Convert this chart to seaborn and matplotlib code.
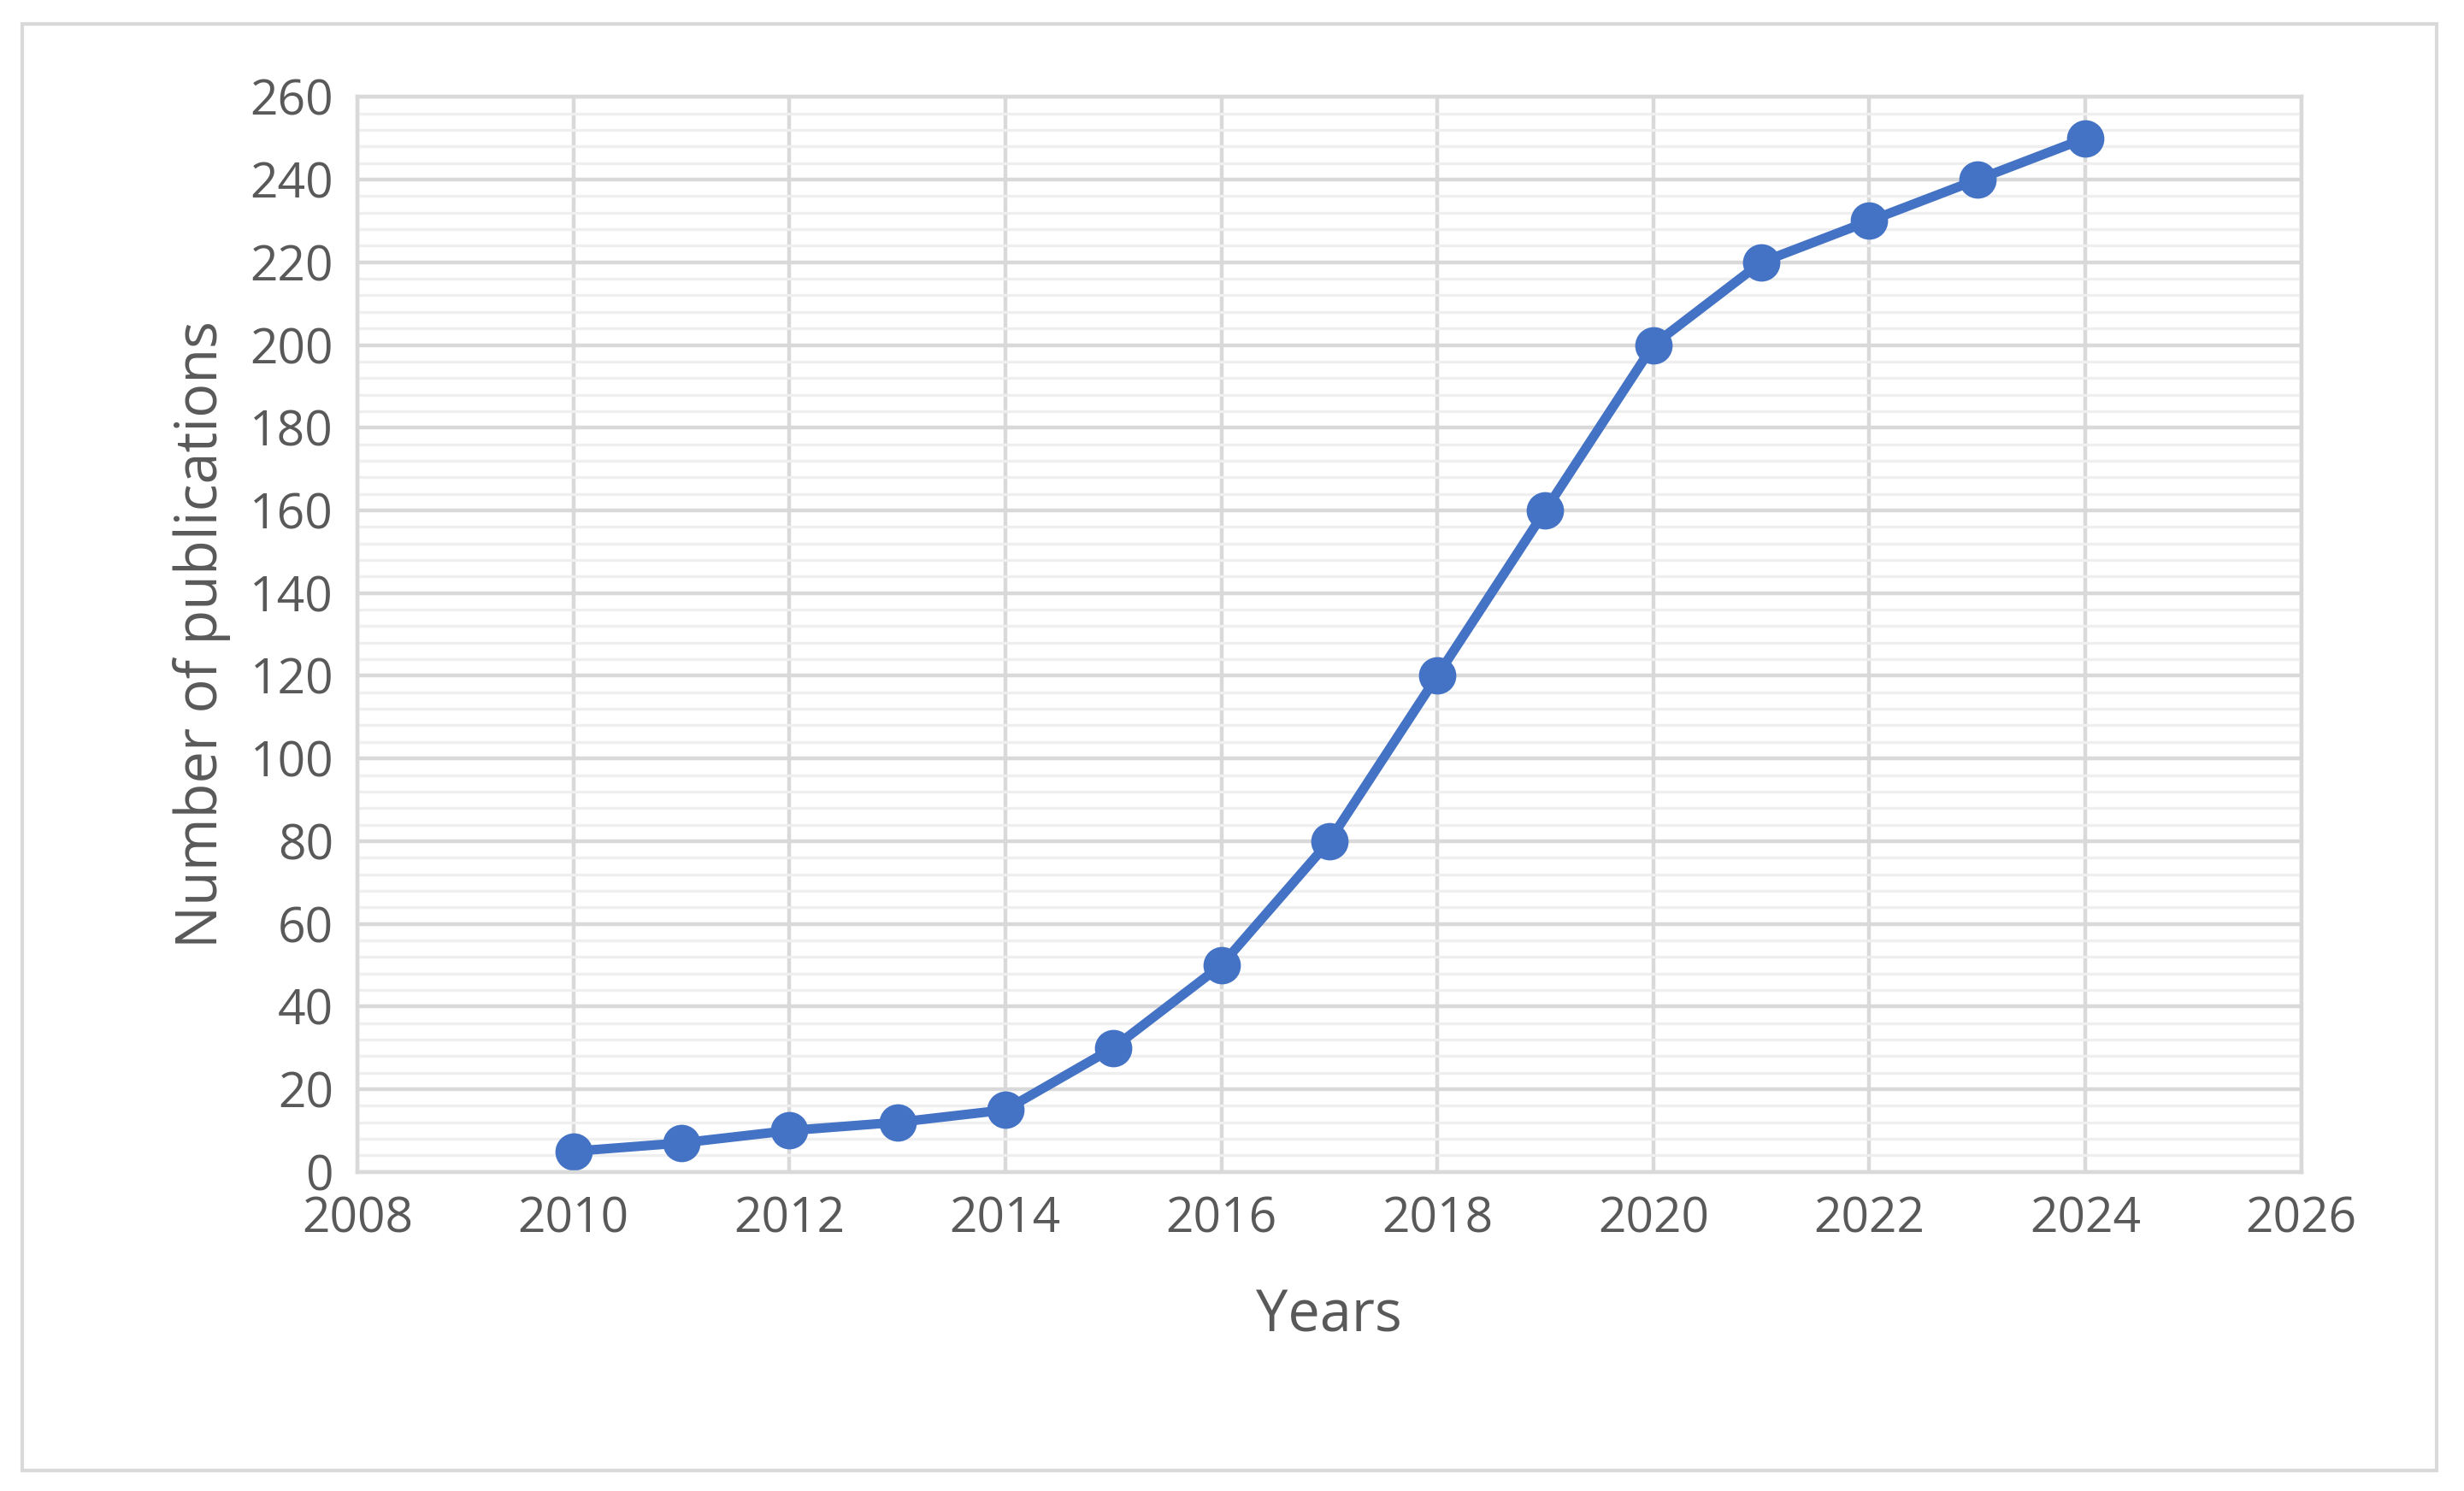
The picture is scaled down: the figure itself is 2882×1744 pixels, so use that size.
import matplotlib
matplotlib.use("Agg")
import matplotlib.pyplot as plt
import seaborn as sns
import pandas as pd
from matplotlib.patches import Rectangle
from matplotlib.ticker import MultipleLocator

years = [2010, 2011, 2012, 2013, 2014, 2015, 2016, 2017, 2018, 2019, 2020, 2021, 2022, 2023, 2024]
publications = [5, 7, 10, 12, 15, 30, 50, 80, 120, 160, 200, 220, 230, 240, 250]

df = pd.DataFrame({"Years": years, "Number of publications": publications})

sns.set_theme(style="white")
plt.rcParams['font.family'] = ['Open Sans', 'DejaVu Sans']
grey = "#595959"

fig = plt.figure(figsize=(14.41, 8.72), dpi=200)
ax = fig.add_axes([0.145, 0.214, 0.789, 0.721])
fig.patches.append(Rectangle((0.009, 0.014), 0.98, 0.97, transform=fig.transFigure,
                             fill=False, edgecolor="#d9d9d9", linewidth=1.5))

sns.lineplot(data=df, x="Years", y="Number of publications", ax=ax, color="#4472C4",
             linewidth=4, marker="o", markersize=15, markeredgecolor="#4472C4")

ax.set_xlim(2008, 2026)
ax.set_ylim(0, 260)
ax.xaxis.set_major_locator(MultipleLocator(2))
ax.yaxis.set_major_locator(MultipleLocator(20))
ax.yaxis.set_minor_locator(MultipleLocator(4))
ax.grid(which="major", color="#d9d9d9", linewidth=1.6)
ax.grid(which="minor", axis="y", color="#efefef", linewidth=1.2)
ax.set_axisbelow(True)
for s in ax.spines.values():
    s.set_color("#d9d9d9")
    s.set_linewidth(1.6)
ax.tick_params(labelsize=20.5, colors=grey, length=0, pad=10)
ax.set_xlabel("Years", fontsize=24, color=grey, labelpad=18)
ax.set_ylabel("Number of publications", fontsize=24, color=grey, labelpad=8)

fig.savefig("out.png", dpi=200)
